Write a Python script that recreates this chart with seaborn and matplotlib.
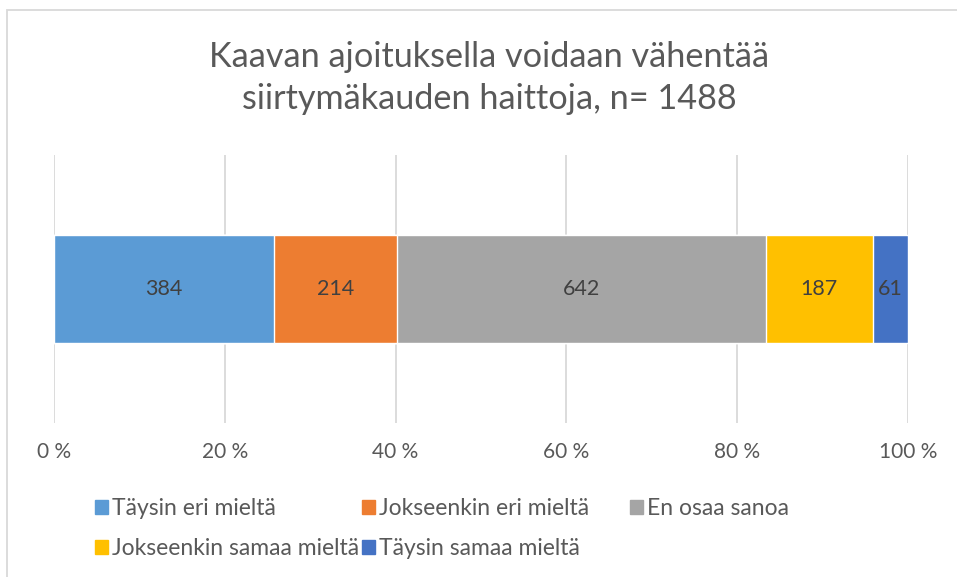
import seaborn as sns
import matplotlib.pyplot as plt
import matplotlib.patches as mpatches
import numpy as np
import pandas as pd

sns.set_style("white")
plt.rcParams["font.family"] = ["Lato", "DejaVu Sans"]

categories = ["Täysin eri mieltä", "Jokseenkin eri mieltä", "En osaa sanoa",
              "Jokseenkin samaa mieltä", "Täysin samaa mieltä"]
counts = [384, 214, 642, 187, 61]
palette = ["#5B9BD5", "#ED7D31", "#A5A5A5", "#FFC000", "#4472C4"]
ticks = [0, 20, 40, 60, 80, 100]
title = "Kaavan ajoituksella voidaan vähentää\nsiirtymäkauden haittoja, n= 1488"

df = pd.DataFrame({"category": categories, "count": counts})
df["share"] = df["count"] / df["count"].sum() * 100
df["cum"] = df["share"].cumsum()
df["mid"] = df["cum"] - df["share"] / 2
df["row"] = "q"

fig = plt.figure(figsize=(9.57, 5.77), dpi=100)
ax = fig.add_axes([54 / 957, 1 - 423 / 577, (908 - 54) / 957, (423 - 155) / 577])

# stacked bar: draw cumulative totals from the end so earlier segments sit on top
for i in reversed(range(len(df))):
    sns.barplot(x=[df["cum"].iloc[i]], y=[df["row"].iloc[i]], color=palette[i],
                width=0.4, saturation=1, ax=ax, zorder=2)

for _, r in df.iterrows():
    ax.text(r["mid"], 0, str(r["count"]), ha="center", va="center",
            fontsize=15.5, color="#404040", zorder=3)

ax.set_xlim(0, 100)
ax.set_ylim(0.5, -0.5)
ax.set_xticks(ticks)
ax.set_xticklabels([f"{t} %" for t in ticks], fontsize=15, color="#595959")
ax.tick_params(axis="x", length=0, pad=14)
ax.set_yticks([])
ax.set_xlabel("")
ax.set_ylabel("")
ax.grid(axis="x", color="#D9D9D9", linewidth=1.3, zorder=0)
ax.set_axisbelow(True)
for s in ax.spines.values():
    s.set_visible(False)

fig.text(489 / 957, 1 - 78 / 577, title, ha="center", va="center", fontsize=24.7,
         color="#595959", linespacing=1.4)

# legend: Excel lays out equal-width columns, so one legend per column
handles = [mpatches.Patch(color=c, label=l) for c, l in zip(palette, categories)]
columns = [([0, 3], 95), ([1, 4], 362), ([2], 630)]
for idx, x0 in columns:
    fig.legend([handles[i] for i in idx], [categories[i] for i in idx],
               loc="upper left", bbox_to_anchor=(x0 / 957, 1 - 498 / 577),
               frameon=False, fontsize=16.5, labelcolor="#595959",
               handlelength=0.55, handleheight=0.55, handletextpad=0.2,
               labelspacing=0.85, borderaxespad=0, borderpad=0)

# chart border (only the left and top edges show in the crop)
fig.add_artist(mpatches.Rectangle((7 / 957, -0.1), 1.2, 1 - 10 / 577 + 0.1,
                                  transform=fig.transFigure, fill=False,
                                  edgecolor="#D9D9D9", linewidth=1.3))

fig.savefig("out.png", dpi=100)
